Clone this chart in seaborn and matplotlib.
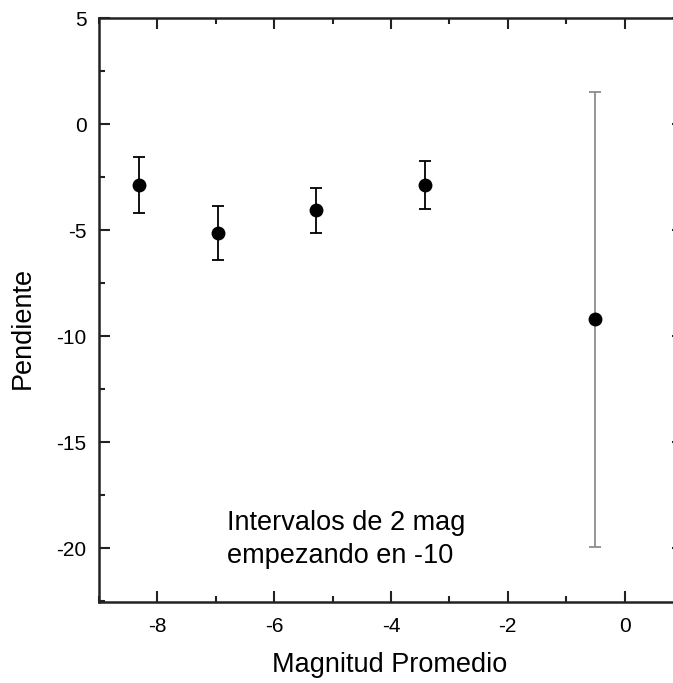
import matplotlib
matplotlib.use("Agg")
import matplotlib.pyplot as plt
from matplotlib.ticker import MultipleLocator
import seaborn as sns
import pandas as pd

# Mean magnitude of each 2-mag bin, fitted slope and its uncertainty
magnitud = [-8.32, -6.96, -5.28, -3.41, -0.50]
pendiente = [-2.88, -5.13, -4.07, -2.88, -9.20]
error = [1.33, 1.27, 1.05, 1.12, 10.72]
err_colors = ["black", "black", "black", "black", "#8c8c8c"]

df = pd.DataFrame({"Magnitud Promedio": magnitud, "Pendiente": pendiente, "err": error})

sns.set_theme(style="ticks")
plt.rcParams["font.family"] = ["Liberation Sans", "DejaVu Sans"]
plt.rcParams["axes.unicode_minus"] = False
plt.rcParams["text.color"] = "black"
plt.rcParams["axes.labelcolor"] = "black"

fig = plt.figure(figsize=(6.73, 6.83), dpi=100)
ax = fig.add_axes([99 / 673, 1 - 602 / 683, (683 - 99) / 673, (602 - 18) / 683])

for x, y, e, c in zip(df["Magnitud Promedio"], df["Pendiente"], df["err"], err_colors):
    ax.errorbar(x, y, yerr=e, fmt="none", ecolor=c, elinewidth=1.3,
                capsize=4.5, capthick=1.3, zorder=2)

sns.scatterplot(data=df, x="Magnitud Promedio", y="Pendiente", ax=ax,
                color="black", s=100, edgecolor="black", linewidth=0, zorder=3)

ax.set_xlim(-9, 1)
ax.set_ylim(-22.53, 5)
ax.xaxis.set_major_locator(MultipleLocator(2))
ax.xaxis.set_minor_locator(MultipleLocator(1))
ax.yaxis.set_major_locator(MultipleLocator(5))
ax.yaxis.set_minor_locator(MultipleLocator(2.5))
ax.tick_params(which="major", direction="in", length=8, width=1.5,
               top=True, right=True, labelsize=15, pad=9, colors="#222222",
               labelcolor="black")
ax.tick_params(axis="x", which="major", pad=11)
ax.tick_params(which="minor", direction="in", length=4.5, width=1.5,
               top=True, right=True, colors="#222222")
for sp in ax.spines.values():
    sp.set_linewidth(1.8)
    sp.set_color("#222222")

ax.set_xlabel("Magnitud Promedio", fontsize=19.5, va="center", color="black")
ax.set_ylabel("Pendiente", fontsize=19.5, va="center", color="black")
ax.xaxis.set_label_coords(0.498, -0.108)
ax.yaxis.set_label_coords(-0.130, 0.469)

ax.text(-6.81, -19.15, "Intervalos de 2 mag", fontsize=19.5, va="baseline",
        ha="left", color="black")
ax.text(-6.81, -20.71, "empezando en -10", fontsize=19.5, va="baseline",
        ha="left", color="black")

fig.savefig("out.png", dpi=100)
